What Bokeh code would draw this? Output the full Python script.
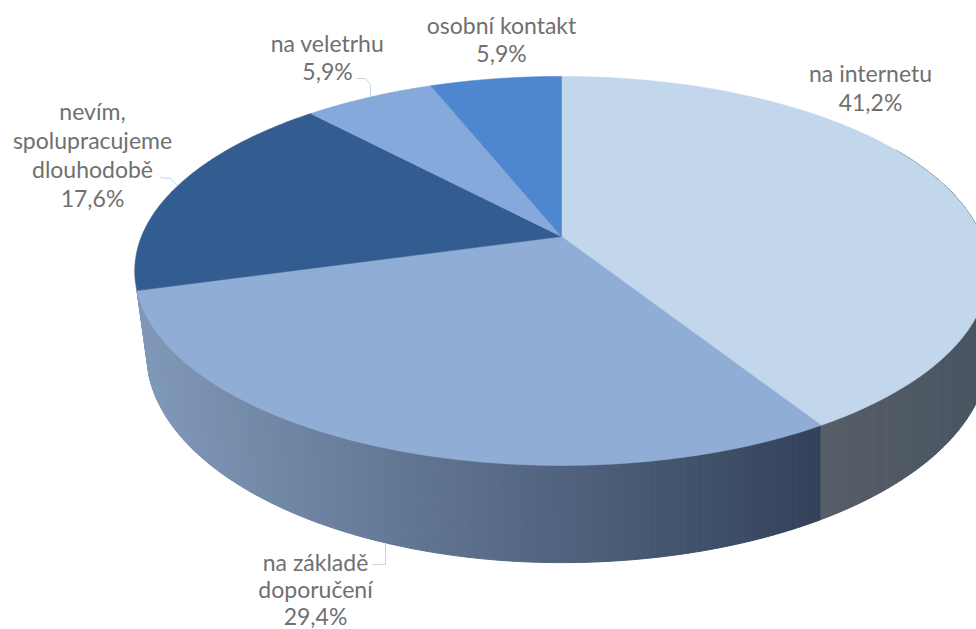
import numpy as np
from bokeh.plotting import figure
from bokeh.embed import file_html
from bokeh.resources import INLINE
from bokeh.core.properties import value

categories = ["na internetu", "na základě doporučení", "nevím, spolupracujeme dlouhodobě", "na veletrhu", "osobní kontakt"]
shares = [41.2, 29.4, 17.6, 5.9, 5.9]
share_labels = ["41,2%", "29,4%", "17,6%", "5,9%", "5,9%"]
top_colors = ["#c2d6ec", "#8fadd5", "#335c90", "#85a9da", "#4f86d0"]
label_lines = [["na internetu"], ["na základě", "doporučení"], ["nevím,", "spolupracujeme", "dlouhodobě"], ["na veletrhu"], ["osobní kontakt"]]

AX, AY, RX, RY, K, DEPTH, LOWER_SCALE = 561.0, 236.0, 420.0, 188.4, 0.177, 80.0, 0.972

W, H = 976, 629
p = figure(width=W, height=H, x_range=(0, W), y_range=(H, 0), toolbar_location=None,
           output_backend="svg", min_border=0, outline_line_color=None)
p.axis.visible = False
p.grid.visible = False
p.background_fill_color = "white"


def project(a, lower=False):
    u, v = np.sin(a), np.cos(a)
    w = 1 + K * v
    x = AX + RX * u / w
    y = AY - RY * v / w
    if lower:
        x = np.where(x < AX, AX + (x - AX) * LOWER_SCALE, x)
        y = y + DEPTH / w
    return x, y


def mix(c1, c2, t):
    return "#%02x%02x%02x" % tuple(int(round(a + (b - a) * t)) for a, b in zip(c1, c2))


edges = np.radians(np.cumsum([0.0] + shares) / sum(shares) * 360.0)

# side wall
side_x, side_y, side_c = [], [], []
steps = np.radians(np.arange(60.0, 258.0, 0.5))
for a0, a1 in zip(steps[:-1], steps[1:]):
    if a0 >= edges[2]:
        break
    a1 = min(a1, edges[2])
    x0, y0 = project(a0)
    x1, y1 = project(a1)
    x2, y2 = project(a1, True)
    x3, y3 = project(a0, True)
    side_x.append([float(x0), float(x1), float(x2), float(x3)])
    side_y.append([float(y0), float(y1), float(y2), float(y3)])
    mid = (a0 + a1) / 2
    mx, _ = project(mid)
    if mid < edges[1]:
        t = np.clip((mx - 820) / 150, 0, 1)
        side_c.append(mix((0x56, 0x5e, 0x68), (0x4a, 0x55, 0x62), t))
    else:
        t = np.clip((820 - mx) / 680, 0, 1)
        side_c.append(mix((0x33, 0x42, 0x5a), (0x80, 0x98, 0xb8), t))
p.patches(side_x, side_y, fill_color=side_c, line_color=side_c, line_width=1)

# top faces
for i in range(len(shares)):
    angs = np.linspace(edges[i], edges[i + 1], 120)
    x, y = project(angs)
    xs = np.concatenate([[AX], x])
    ys = np.concatenate([[AY], y])
    p.patch(xs, ys, fill_color=top_colors[i], line_color=top_colors[i], line_width=0.6)

# leader lines
leader_col = "#c5d5e6"
p.line([372, 385, 385], [564, 564, 543], line_color=leader_col, line_width=1)
p.line([159, 170, 177], [177, 178, 185], line_color=leader_col, line_width=1)
p.line([356, 365, 370, 370], [78, 78, 84, 97], line_color=leader_col, line_width=1)

# labels
anchors = [(870, 72), (315, 561), (92, 110), (327, 42), (501, 24)]
LINES = [29, 27, 29, 28, 28]
for lines, pct, (cx, cy), step in zip(label_lines, share_labels, anchors, LINES):
    for j, t in enumerate(lines + [pct]):
        p.text([cx], [cy + j * step], text=[t], text_align="center", text_baseline="middle",
               text_font=value("Lato"), text_font_size="23px", text_color="#707070")

open("out.html", "w").write(file_html(p, INLINE))
